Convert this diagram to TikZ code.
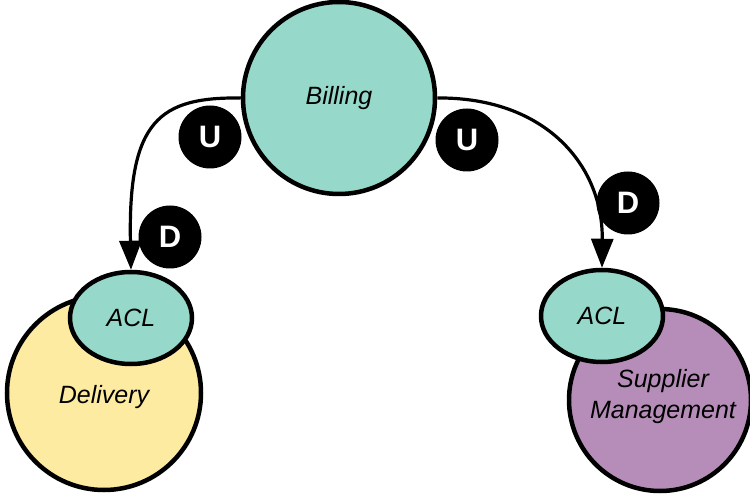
\documentclass[tikz,border=0pt]{standalone}
\usepackage{fontspec}
\setmainfont{Liberation Sans}
\usetikzlibrary{arrows.meta,shapes.geometric}
\definecolor{tealc}{RGB}{150,216,202}
\definecolor{yellowc}{RGB}{253,235,162}
\definecolor{purplec}{RGB}{182,141,184}
\tikzset{
  ctx/.style={circle, draw=black, line width=4.5pt, inner sep=0pt, font=\fontsize{25}{30}\selectfont\itshape, align=center},
  aclbox/.style={ellipse, draw=black, line width=4.5pt, fill=tealc, minimum width=122pt, minimum height=92pt, inner sep=0pt, font=\fontsize{25}{30}\selectfont\itshape},
  badge/.style={circle, fill=black, minimum size=63pt, inner sep=0pt, text=white, font=\fontsize{31}{36}\selectfont\bfseries},
  rel/.style={line width=3.2pt, -{Triangle[length=29pt,width=22pt]}}
}
\begin{document}
\begin{tikzpicture}[x=1pt,y=-1pt]
\useasboundingbox (0,0) rectangle (750,494);
\node[ctx, fill=tealc, minimum size=192pt] (billing) at (339,98) {Billing};
\node[ctx, fill=yellowc, minimum size=194pt] (delivery) at (104,393) {};
\node[font=\fontsize{25}{30}\selectfont\itshape] (deltext) at (104,397) {Delivery};
\node[aclbox] (acl1) at (131,318) {ACL};
\begin{scope}
\clip (0,0) rectangle (750,494);
\node[ctx, fill=purplec, minimum size=182pt] (supplier) at (660,400) {};
\end{scope}
\node[font=\fontsize{25}{31}\selectfont\itshape, align=center] (suptext) at (663,397) {Supplier\\Management};
\node[aclbox] (acl2) at (602,316) {ACL};
\node[badge] (u1) at (210,137) {U};
\node[badge] (d1) at (170,237) {D};
\node[badge] (u2) at (467,140) {U};
\node[badge] (d2) at (628,203) {D};
\draw[rel] (billing.west) .. controls (160,97) and (128,120) .. (acl1.north);
\draw[rel] (billing.east) .. controls (545,97) and (603,165) .. (acl2.north);
\end{tikzpicture}
\end{document}
